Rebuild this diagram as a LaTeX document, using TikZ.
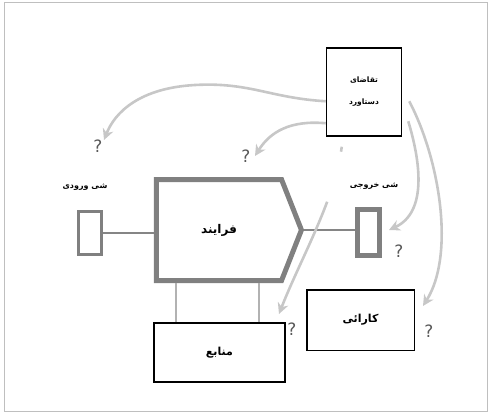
\documentclass[tikz,border=0pt]{standalone}
\usepackage{fontspec}
\usetikzlibrary{arrows.meta,shapes.symbols}
\newfontfamily\arabicfont[Script=Arabic]{DejaVu Sans}
\TeXXeTstate=1

\begin{document}
\begin{tikzpicture}
	[x=1pt, y=-1pt,
	label/.style={font=\arabicfont\bfseries\fontsize{8}{10}\selectfont},
	ask/.style={font=\arabicfont\fontsize{17}{19}\selectfont, text=black!65},
	blackbox/.style={draw=black, line width=1.5pt, rectangle, inner sep=0pt,
		font=\arabicfont\bfseries\fontsize{11}{13}\selectfont},
	graybox/.style={draw=black!50, line width=3.5pt, rectangle, inner sep=0pt},
	link/.style={draw=black!48, line width=2.8pt},
	leg/.style={draw=black!30, line width=1.5pt},
	flow/.style={draw=black!22, line width=2.6pt, -{Stealth[length=11pt,width=11pt]}}]

	% Frame
	\useasboundingbox (0,0) rectangle (488,412);
	\draw[black!25, line width=1pt] (4.5,2.5) rectangle (487,411);

	% Process and its objects
	\node[signal, signal to=east, signal pointer angle=137, draw=black!50,
		line width=5pt, minimum width=145pt, minimum height=101pt,
		font=\arabicfont\bfseries\fontsize{12}{14}\selectfont]
		(proc) at (219,230) {\beginR فرایند\endR};

	\node[graybox, minimum width=23pt, minimum height=43pt] (inobj) at (90,233) {};
	\node[graybox, line width=5pt, minimum width=22pt, minimum height=46pt] (outobj) at (368.5,232.5) {};

	\node[label] (inlbl) at (85,187) {\beginR شی ورودی\endR};
	\node[label] (outlbl) at (374,186) {\beginR شی خروجی\endR};

	\draw[link] (inobj.east) -- (proc.west |- inobj.east);
	\draw[link] (proc.east) -- (outobj.west |- proc.east);

	% Resources under the process
	\node[blackbox, line width=2pt, minimum width=131pt, minimum height=59pt] (res) at (219.5,352.5) {\beginR منابع\endR};
	\draw[leg] ([xshift=-43.5pt]res.north) -- ([xshift=-43.5pt]res.north |- proc.south);
	\draw[leg] ([xshift=39.5pt]res.north) -- ([xshift=39.5pt]res.north |- proc.south);

	% Control and demand
	\node[blackbox, minimum width=107.5pt, minimum height=60.5pt] (ctrl) at (360.5,320) {\beginR کارائی\endR};
	\node[blackbox, minimum width=75pt, minimum height=88pt, align=center,
		font=\arabicfont\bfseries\fontsize{7.5}{22}\selectfont]
		(demand) at (364,92) {\beginR تقاضای\endR\\\beginR دستاورد\endR};

	% Question marks
	\node[ask] (q1) at (98,146) {?};
	\node[ask] (q2) at (246,156) {?};
	\node[ask] (q3) at (399,251) {?};
	\node[ask] (q4) at (292,329) {?};
	\node[ask] (q5) at (429,331) {?};

	% Arrows out of the demand box
	\coordinate (t1) at (104,140);
	\coordinate (t2) at (255,156);
	\coordinate (t3) at (279,314);
	\coordinate (t4) at (389,230);
	\coordinate (t5) at (423,306);

	\draw[flow] ([yshift=-54pt]demand.north west)
		.. controls (270,98) and (250,82) .. (195,85)
		.. controls (140,88) and (115,112) .. (t1);
	\draw[flow] ([yshift=-76pt]demand.north west)
		.. controls (290,120) and (270,132) .. (t2);
	\draw[flow, dash pattern=on 5pt off 52pt on 400pt] ([xshift=16pt,yshift=-10pt]demand.south west)
		.. controls (335,200) and (300,260) .. (t3);
	\draw[flow] ([xshift=6pt,yshift=-74pt]demand.north east)
		.. controls (420,160) and (428,212) .. (t4);
	\draw[flow] ([xshift=7pt,yshift=-54pt]demand.north east)
		.. controls (440,160) and (455,255) .. (t5);
\end{tikzpicture}
\end{document}
